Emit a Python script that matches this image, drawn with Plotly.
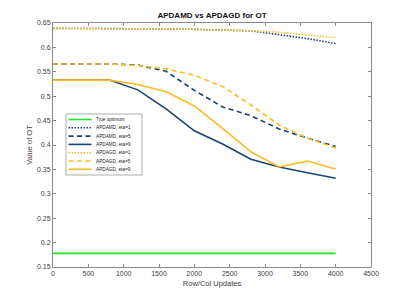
import plotly.graph_objects as go

# ---------------- data ----------------
updates = [0, 400, 800, 1200, 1600, 2000, 2400, 2800, 3200, 3600, 4000]
true_optimum = [0.178] * len(updates)
apdamd_eta1 = [0.639, 0.639, 0.639, 0.638, 0.638, 0.637, 0.636, 0.634, 0.626, 0.618, 0.608]
apdamd_eta5 = [0.566, 0.566, 0.566, 0.564, 0.551, 0.512, 0.478, 0.460, 0.433, 0.414, 0.397]
apdamd_eta9 = [0.533, 0.533, 0.533, 0.513, 0.474, 0.429, 0.402, 0.371, 0.355, 0.343, 0.332]
apdagd_eta1 = [0.639, 0.639, 0.639, 0.638, 0.638, 0.637, 0.636, 0.634, 0.631, 0.626, 0.620]
apdagd_eta5 = [0.566, 0.566, 0.566, 0.563, 0.556, 0.543, 0.520, 0.482, 0.441, 0.414, 0.394]
apdagd_eta9 = [0.533, 0.533, 0.533, 0.524, 0.509, 0.480, 0.434, 0.386, 0.355, 0.367, 0.351]

series_names = ["True optimum", "APDAMD, eta=1", "APDAMD, eta=5", "APDAMD, eta=9",
                "APDAGD, eta=1", "APDAGD, eta=5", "APDAGD, eta=9"]
series_values = [true_optimum, apdamd_eta1, apdamd_eta5, apdamd_eta9,
                 apdagd_eta1, apdagd_eta5, apdagd_eta9]

x_ticks = [0, 500, 1000, 1500, 2000, 2500, 3000, 3500, 4000, 4500]
y_ticks = [0.15, 0.2, 0.25, 0.3, 0.35, 0.4, 0.45, 0.5, 0.55, 0.6, 0.65]
y_tick_labels = ["0.15", "0.2", "0.25", "0.3", "0.35", "0.4", "0.45", "0.5", "0.55", "0.6", "0.65"]

# ---------------- styles ----------------
GREEN = "#1fe61f"
BLUE = "#1b4372"
YELLOW = "#fbbb22"
DOT = "1.5px,1.5px"
DASH = "5px,3.5px"
styles = [
    (GREEN, "solid"),
    (BLUE, DOT), (BLUE, DASH), (BLUE, "solid"),
    (YELLOW, DOT), (YELLOW, DASH), (YELLOW, "solid"),
]
LW = 1.6
FONT = "Liberation Sans, Arial, Helvetica, sans-serif"
TEXT = "#404040"
AXIS = "#8a8a8a"

fig = go.Figure()
for name, vals, (col, dash) in zip(series_names, series_values, styles):
    fig.add_trace(go.Scatter(x=updates, y=vals, mode="lines", name=name,
                             line=dict(color=col, width=LW, dash=dash),
                             showlegend=False))

# plot-area geometry (pixels)
W, H = 409, 300
L, R, T, B = 53, 38, 23, 33
pw, ph = W - L - R, H - T - B

def px2paper_x(px):
    return (px - L) / pw

def px2paper_y(py):
    return (H - B - py) / ph

# manual compact legend (MATLAB-style)
shapes = []
annotations = []
leg_left, leg_right, leg_top, leg_bottom = 66, 142, 114, 175
shapes.append(dict(type="rect", xref="paper", yref="paper",
                   x0=px2paper_x(leg_left), x1=px2paper_x(leg_right),
                   y0=px2paper_y(leg_bottom), y1=px2paper_y(leg_top),
                   line=dict(color="#9a9a9a", width=0.8), fillcolor="white", layer="above"))
row0, row_step = 119.5, 8.3
for i, (name, (col, dash)) in enumerate(zip(series_names, styles)):
    yy = px2paper_y(row0 + i * row_step)
    shapes.append(dict(type="line", xref="paper", yref="paper",
                       x0=px2paper_x(68.5), x1=px2paper_x(91.5), y0=yy, y1=yy,
                       line=dict(color=col, width=LW, dash=dash), layer="above"))
    annotations.append(dict(xref="paper", yref="paper", x=px2paper_x(93.5), y=yy,
                            text=name, showarrow=False, xanchor="left", yanchor="middle",
                            font=dict(family=FONT, size=4.7, color="#222")))

fig.update_layout(
    width=W, height=H,
    margin=dict(l=L, r=R, t=T, b=B, pad=0),
    paper_bgcolor="white", plot_bgcolor="white",
    title=dict(text="<b>APDAMD vs APDAGD for OT</b>", x=(L + pw / 2) / W, xanchor="center",
               y=1 - 15.5 / H, yanchor="middle",
               font=dict(family=FONT, size=8, color="#111")),
    font=dict(family=FONT, size=7, color=TEXT),
    shapes=shapes,
    annotations=annotations,
    xaxis=dict(range=[0, 4500], tickvals=x_ticks, ticks="inside", ticklen=3,
               tickcolor=AXIS, showline=True, linecolor=AXIS, linewidth=1,
               mirror="ticks", showgrid=False, zeroline=False,
               tickfont=dict(family=FONT, size=7, color=TEXT),
               title=dict(text="Row/Col Updates", standoff=4,
                          font=dict(family=FONT, size=7.5, color=TEXT)),
               automargin=False),
    yaxis=dict(range=[0.15, 0.65], tickvals=y_ticks, ticktext=y_tick_labels,
               ticks="inside", ticklen=3, tickcolor=AXIS, showline=True,
               linecolor=AXIS, linewidth=1, mirror="ticks", showgrid=False,
               zeroline=False, tickfont=dict(family=FONT, size=7, color=TEXT),
               title=dict(text="Value of OT", standoff=3,
                          font=dict(family=FONT, size=7.5, color=TEXT)),
               automargin=False),
)

fig.write_html("out.html",
               config={"displayModeBar": False, "staticPlot": True},
               post_script="document.body.style.margin='0';document.body.style.overflow='hidden';")
